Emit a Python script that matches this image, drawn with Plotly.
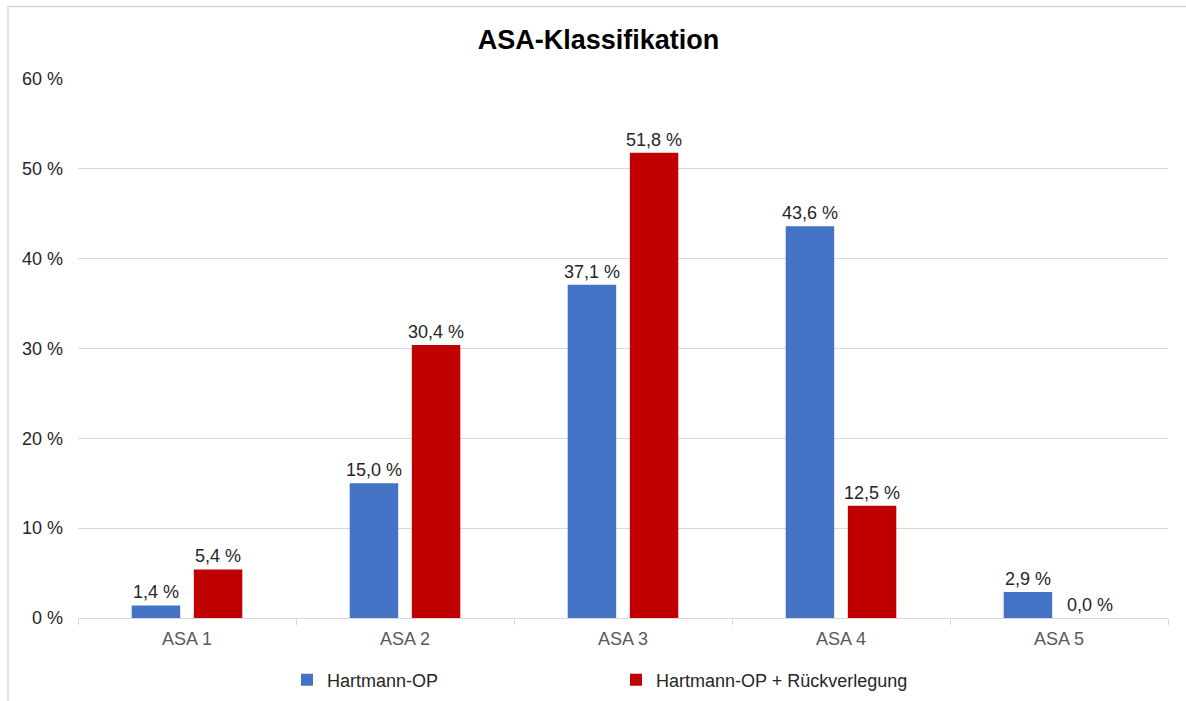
import plotly.graph_objects as go

# ASA physical status classes and share of patients per procedure group (%)
categories = ["ASA 1", "ASA 2", "ASA 3", "ASA 4", "ASA 5"]
hartmann = [1.4, 15.0, 37.1, 43.6, 2.9]
hartmann_rueck = [5.4, 30.4, 51.8, 12.5, 0.0]
y_ticks = [0, 10, 20, 30, 40, 50, 60]


def de_label(v):
    return f"{v:.1f}".replace(".", ",") + " %"


FONT = "Liberation Sans, Arial, sans-serif"
GRID = "#d9d9d9"
LABEL = "#262626"

fig = go.Figure()
fig.add_trace(go.Bar(
    name="Hartmann-OP", x=categories, y=hartmann,
    marker=dict(color="#4472C4", line=dict(width=0)),
    text=[de_label(v) for v in hartmann], textposition="outside",
    constraintext="none",
    textfont=dict(family=FONT, size=18, color=LABEL), cliponaxis=False,
))
fig.add_trace(go.Bar(
    name="Hartmann-OP + Rückverlegung", x=categories, y=hartmann_rueck,
    marker=dict(color="#C00000", line=dict(width=0)),
    text=[de_label(v) for v in hartmann_rueck], textposition="outside",
    constraintext="none",
    textfont=dict(family=FONT, size=18, color=LABEL), cliponaxis=False,
))

W, H = 1186, 701
L, R, T, B = 78, 18, 79, 83
pw, ph = W - L - R, H - T - B

fig.update_layout(
    width=W, height=H,
    margin=dict(l=L, r=R, t=T, b=B, pad=0, autoexpand=False),
    paper_bgcolor="white", plot_bgcolor="white",
    barmode="group", bargap=0.43, bargroupgap=0.22,
    font=dict(family=FONT, size=18, color=LABEL),
    title=dict(text="<b>ASA-Klassifikation</b>", x=598.5 / W, xanchor="center",
               y=1 - 40 / H, yanchor="middle",
               font=dict(family=FONT, size=27, color="#000000")),
    showlegend=True,
    legend=dict(orientation="h", x=(287 - L) / pw, xanchor="left",
                y=-(680 - (T + ph)) / ph, yanchor="middle",
                entrywidth=284, entrywidthmode="pixels", itemwidth=30,
                font=dict(family=FONT, size=18, color=LABEL),
                bgcolor="rgba(0,0,0,0)"),
)

fig.update_xaxes(
    type="category", showgrid=False, showline=True, linecolor=GRID, linewidth=1,
    ticks="outside", tickson="boundaries", ticklen=6, tickcolor=GRID,
    ticklabelstandoff=4,
    tickfont=dict(family=FONT, size=18, color="#595959"), zeroline=False,
)
fig.update_yaxes(
    range=[0, 60], tickvals=y_ticks, ticktext=[f"{v} %" for v in y_ticks],
    showgrid=True, gridcolor=GRID, gridwidth=1, showline=False, zeroline=False,
    ticks="", ticklabelstandoff=14,
    tickfont=dict(family=FONT, size=18, color=LABEL),
)

# outer chart frame
fig.add_shape(type="rect", xref="paper", yref="paper",
              x0=(8 - L) / pw, x1=(W + 10 - L) / pw,
              y0=-(H + 10 - T - ph) / ph, y1=1 + (T - 6.5) / ph,
              line=dict(color=GRID, width=1.5), fillcolor="rgba(0,0,0,0)", layer="below")

fig.write_html("out.html")
